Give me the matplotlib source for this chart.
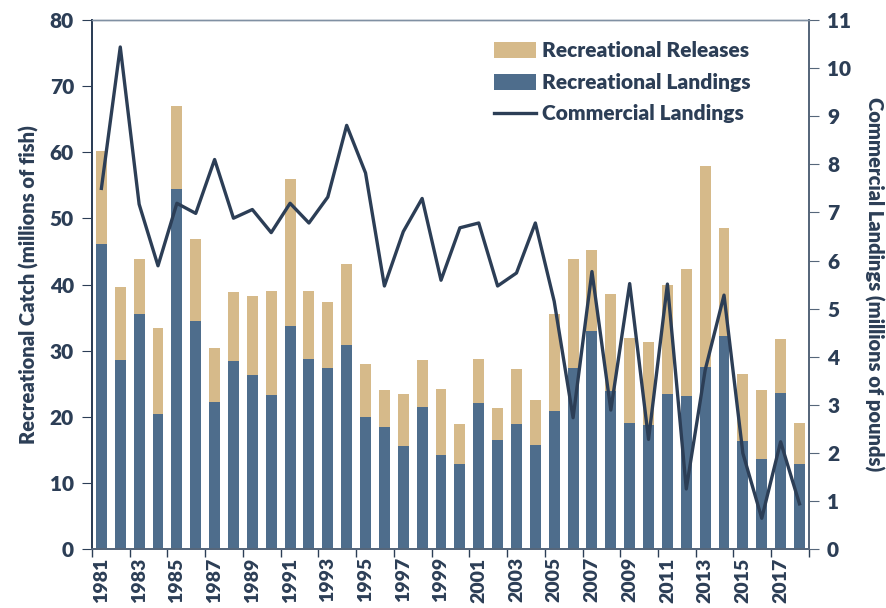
import matplotlib
matplotlib.use('Agg')
import matplotlib.pyplot as plt
import numpy as np

# data
years = list(range(1981, 2019))
rec_landings = [46.2, 28.6, 35.5, 20.4, 54.4, 34.5, 22.2, 28.5, 26.3, 23.3,
                33.7, 28.7, 27.4, 30.8, 19.9, 18.5, 15.6, 21.5, 14.2, 12.9,
                22.1, 16.5, 18.9, 15.7, 20.8, 27.4, 32.9, 23.9, 19.1, 18.8,
                23.5, 23.1, 27.5, 32.2, 16.3, 13.6, 23.6, 12.8]
rec_total = [60.2, 39.6, 43.8, 33.5, 67.0, 46.9, 30.4, 38.8, 38.3, 39.0,
             55.9, 39.0, 37.4, 43.1, 28.0, 24.0, 23.5, 28.6, 24.2, 18.9,
             28.7, 21.3, 27.2, 22.5, 35.5, 43.8, 45.3, 38.6, 31.9, 31.3,
             40.0, 42.3, 57.9, 48.6, 26.5, 24.1, 31.7, 19.1]
rec_releases = [t - l for t, l in zip(rec_total, rec_landings)]
comm_landings = [7.50, 10.44, 7.17, 5.89, 7.19, 6.98, 8.10, 6.88, 7.06, 6.58,
                 7.19, 6.78, 7.32, 8.81, 7.82, 5.47, 6.60, 7.29, 5.59, 6.68,
                 6.78, 5.47, 5.74, 6.78, 5.15, 2.73, 5.77, 2.89, 5.52, 2.28,
                 5.51, 1.25, 3.72, 5.28, 1.99, 0.64, 2.23, 0.94]

navy = '#2c3e56'
blue = '#4e6d8c'
tan = '#d6ba8a'

plt.rcParams['font.family'] = ['Lato', 'DejaVu Sans']
plt.rcParams['font.weight'] = 'bold'

fig = plt.figure(figsize=(8.86, 6.08), dpi=100)
ax = fig.add_axes([0.1038, 0.097, 0.8092, 0.870])
ax2 = ax.twinx()

x = np.arange(len(years))
b1 = ax.bar(x, rec_landings, width=0.58, color=blue, label='Recreational Landings', zorder=2)
b2 = ax.bar(x, rec_releases, width=0.58, bottom=rec_landings, color=tan,
            label='Recreational Releases', zorder=2)
l1, = ax2.plot(x, comm_landings, color=navy, lw=2.4, label='Commercial Landings')

ax.set_xlim(-0.5, len(years) - 0.5)
ax.set_ylim(0, 80)
ax2.set_ylim(0, 11)
ax.set_yticks(range(0, 81, 10))
ax2.set_yticks(range(0, 12))

# ticks at category boundaries every 2 years, labels centered on odd years
ax.set_xticks(np.arange(-0.5, len(years), 2))
ax.set_xticklabels([])
ax.set_xticks(x[::2], minor=True)
ax.set_xticklabels([str(y) for y in years[::2]], minor=True, rotation=90,
                   fontsize=14, fontweight='heavy', color=navy)
ax.tick_params(axis='x', which='major', length=6, color=navy, width=1)
ax.tick_params(axis='x', which='minor', length=0, pad=6)

ax.tick_params(axis='y', length=7, color=navy, labelsize=15, labelcolor=navy, pad=6)
ax2.tick_params(axis='y', length=7, color='#56667a', labelsize=15, labelcolor=navy, pad=6)
for lab in ax.get_yticklabels() + ax2.get_yticklabels():
    lab.set_fontweight('heavy')

for a in (ax, ax2):
    a.spines['top'].set_color('#8090a3')
    a.spines['top'].set_linewidth(1)
    a.spines['left'].set_color(navy)
    a.spines['left'].set_linewidth(1.3)
    a.spines['right'].set_color('#56667a')
    a.spines['right'].set_linewidth(1.3)
    a.spines['bottom'].set_color('#56667a')
    a.spines['bottom'].set_linewidth(1.3)

ax.set_ylabel('Recreational Catch (millions of fish)', fontsize=14.5, fontweight='heavy',
              color=navy, labelpad=8)
ax2.set_ylabel('Commercial Landings (millions of pounds)', fontsize=14.5, fontweight='heavy',
               color=navy, rotation=270, labelpad=24)

leg = ax2.legend([b2, b1, l1], ['Recreational Releases', 'Recreational Landings',
                                 'Commercial Landings'],
                 loc='upper left', bbox_to_anchor=(0.535, 0.995), frameon=False,
                 fontsize=15, handlelength=2.0, handleheight=0.8, labelspacing=0.6,
                 handletextpad=0.3)
for t in leg.get_texts():
    t.set_color(navy)
    t.set_fontweight('heavy')

fig.savefig('out.png', dpi=100)
